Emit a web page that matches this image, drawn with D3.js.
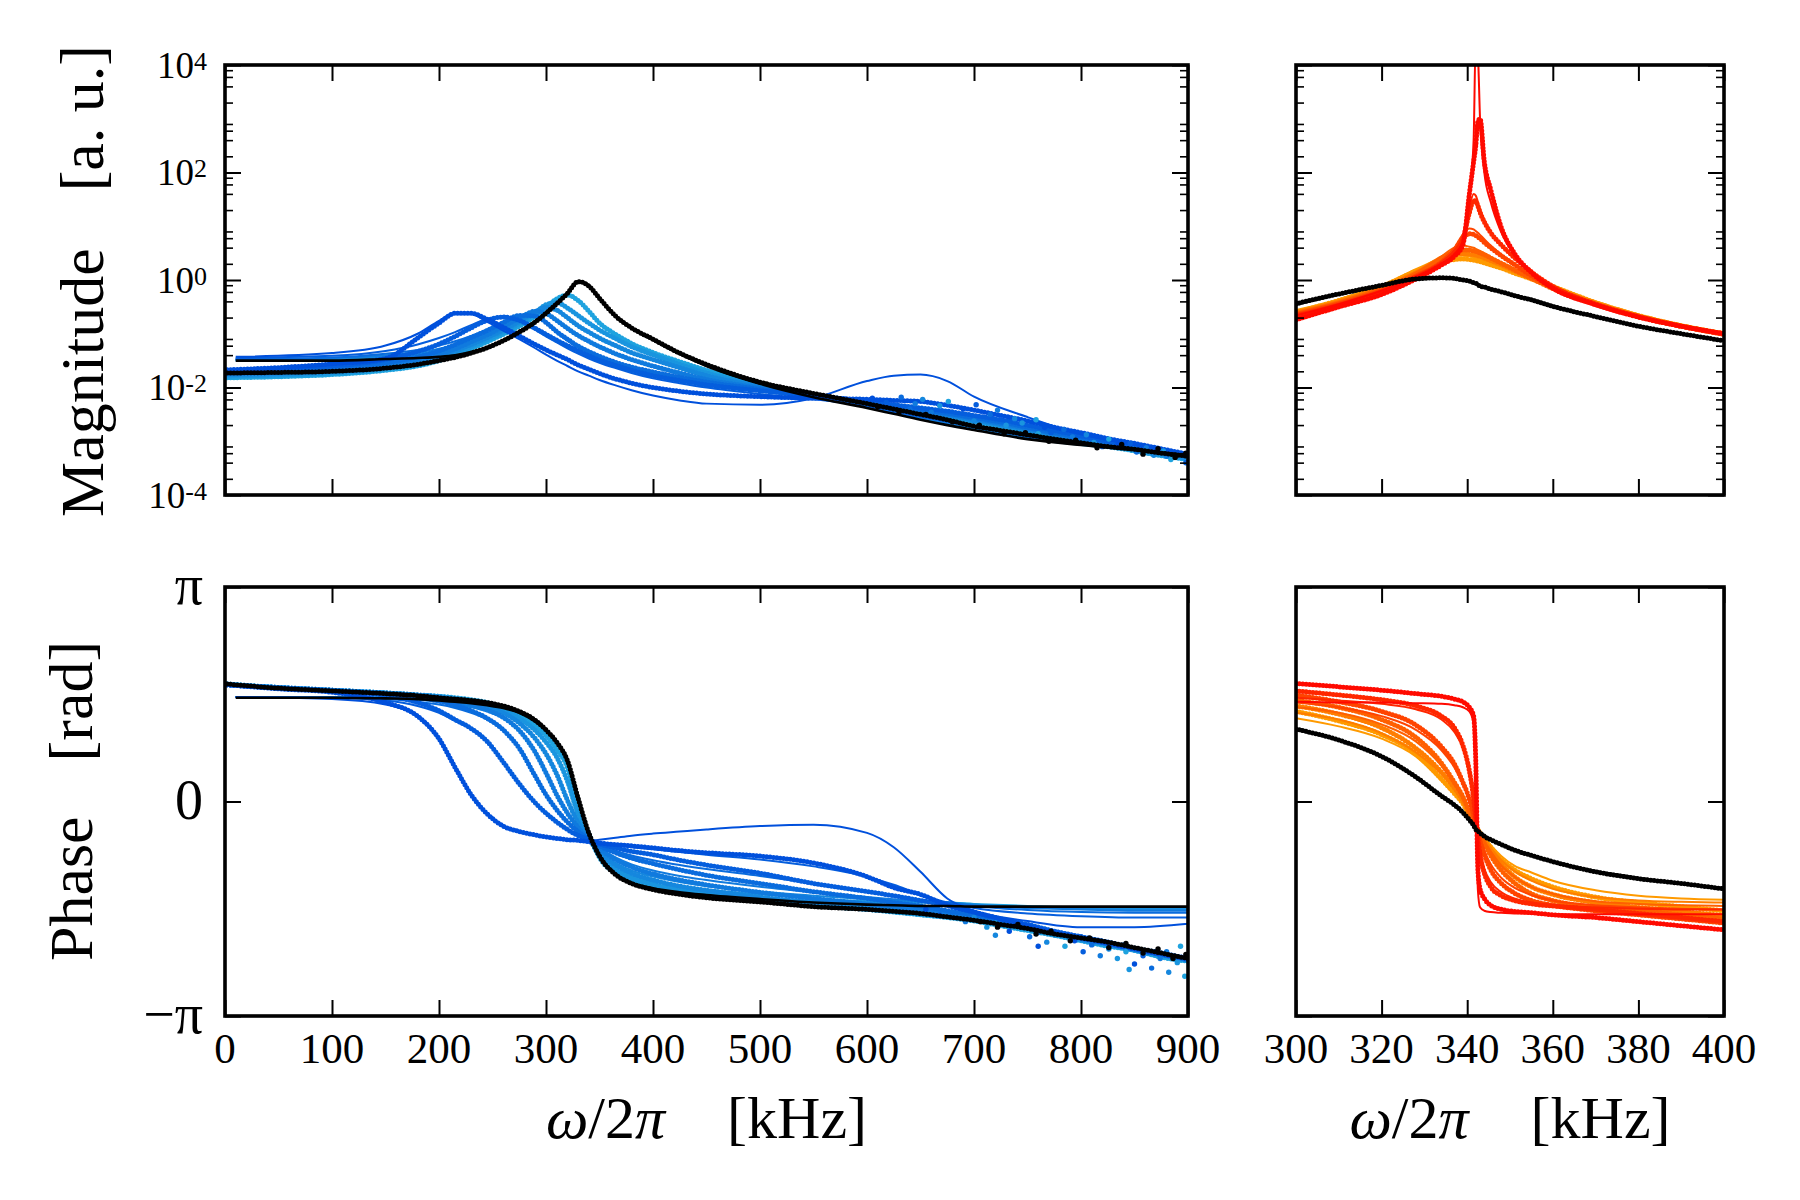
<!DOCTYPE html>
<html>
<head>
<meta charset="utf-8">
<script src="https://cdn.jsdelivr.net/npm/d3@7/dist/d3.min.js"></script>
<style>
body { margin: 0; background: #fff; }
text { font-family: "Liberation Serif", "DejaVu Serif", serif; fill: #000; }
</style>
</head>
<body>
<script>
// ---------- data ----------
// left panels: frequency grids in kHz
var fitGridL = [10, 100, 150, 180, 200, 215, 230, 245, 260, 275, 290, 300, 310, 320, 330, 340, 350, 365, 380, 400, 425, 450, 500, 550, 600, 625, 650, 675, 700, 750, 800, 850, 900];
var datGridL = [2, 50, 100, 150, 180, 200, 215, 230, 245, 260, 275, 290, 300, 310, 320, 330, 340, 350, 365, 380, 400, 425, 450, 500, 550, 600, 625, 650, 675, 700, 725, 750, 775, 800, 825, 850, 875, 900];

// magnitude, log10 values; 7 blue series, dark -> light
var magFitBlue = [
  [-1.43, -1.36, -1.22, -1.0, -0.76, -0.61, -0.63, -0.78, -0.94, -1.1, -1.27, -1.39, -1.5, -1.6, -1.7, -1.78, -1.86, -1.96, -2.05, -2.15, -2.24, -2.3, -2.32, -2.2, -1.88, -1.78, -1.76, -1.88, -2.17, -2.55, -2.87, -3.07, -3.26],
  [-1.45, -1.41, -1.32, -1.2, -1.08, -0.97, -0.84, -0.72, -0.68, -0.76, -0.93, -1.05, -1.16, -1.27, -1.37, -1.46, -1.54, -1.64, -1.73, -1.83, -1.92, -2.0, -2.12, -2.22, -2.34, -2.44, -2.54, -2.63, -2.72, -2.9, -3.03, -3.13, -3.24],
  [-1.47, -1.44, -1.37, -1.3, -1.22, -1.14, -1.04, -0.92, -0.78, -0.65, -0.67, -0.8, -0.98, -1.13, -1.26, -1.36, -1.45, -1.56, -1.65, -1.74, -1.84, -1.93, -2.07, -2.2, -2.35, -2.45, -2.55, -2.64, -2.73, -2.91, -3.04, -3.14, -3.24],
  [-1.48, -1.45, -1.4, -1.34, -1.28, -1.21, -1.12, -1.0, -0.86, -0.7, -0.57, -0.63, -0.77, -0.92, -1.05, -1.16, -1.26, -1.39, -1.5, -1.62, -1.75, -1.87, -2.04, -2.19, -2.35, -2.45, -2.55, -2.65, -2.74, -2.92, -3.05, -3.15, -3.25],
  [-1.48, -1.46, -1.42, -1.37, -1.31, -1.25, -1.16, -1.05, -0.92, -0.76, -0.58, -0.5, -0.57, -0.72, -0.87, -0.99, -1.1, -1.24, -1.37, -1.5, -1.65, -1.8, -2.0, -2.18, -2.35, -2.46, -2.56, -2.66, -2.75, -2.93, -3.05, -3.15, -3.25],
  [-1.49, -1.47, -1.43, -1.39, -1.34, -1.28, -1.2, -1.09, -0.96, -0.8, -0.6, -0.45, -0.42, -0.53, -0.67, -0.81, -0.94, -1.1, -1.25, -1.4, -1.58, -1.74, -1.97, -2.17, -2.35, -2.46, -2.57, -2.67, -2.76, -2.94, -3.06, -3.16, -3.25],
  [-1.5, -1.48, -1.44, -1.41, -1.37, -1.32, -1.24, -1.13, -1.0, -0.85, -0.66, -0.5, -0.34, -0.27, -0.38, -0.58, -0.8, -1.02, -1.19, -1.36, -1.53, -1.69, -1.94, -2.16, -2.35, -2.46, -2.57, -2.67, -2.77, -2.95, -3.07, -3.17, -3.26]
];
var magFitBlackL = [-1.5, -1.5, -1.47, -1.45, -1.43, -1.4, -1.34, -1.25, -1.12, -0.96, -0.77, -0.61, -0.43, -0.24, -0.02, -0.1, -0.35, -0.68, -0.9, -1.12, -1.38, -1.6, -1.93, -2.18, -2.38, -2.49, -2.6, -2.7, -2.79, -2.96, -3.07, -3.16, -3.26];

var magDatBlue = [
  [-1.67, -1.63, -1.56, -1.46, -1.08, -0.8, -0.62, -0.62, -0.73, -0.88, -1.04, -1.2, -1.3, -1.39, -1.48, -1.58, -1.66, -1.74, -1.84, -1.92, -2.0, -2.07, -2.12, -2.17, -2.2, -2.22, -2.24, -2.26, -2.33, -2.42, -2.52, -2.62, -2.74, -2.84, -2.95, -3.04, -3.14, -3.24],
  [-1.69, -1.66, -1.6, -1.48, -1.33, -1.19, -1.05, -0.89, -0.75, -0.69, -0.75, -0.9, -1.01, -1.12, -1.22, -1.32, -1.41, -1.49, -1.59, -1.68, -1.78, -1.87, -1.95, -2.06, -2.15, -2.26, -2.32, -2.38, -2.44, -2.52, -2.6, -2.7, -2.8, -2.9, -3.0, -3.08, -3.17, -3.26],
  [-1.72, -1.69, -1.64, -1.54, -1.43, -1.32, -1.2, -1.07, -0.94, -0.79, -0.66, -0.67, -0.79, -0.96, -1.1, -1.23, -1.33, -1.42, -1.53, -1.62, -1.71, -1.81, -1.9, -2.03, -2.15, -2.27, -2.34, -2.41, -2.48, -2.56, -2.64, -2.74, -2.84, -2.93, -3.02, -3.1, -3.19, -3.28],
  [-1.74, -1.71, -1.67, -1.58, -1.48, -1.38, -1.28, -1.15, -1.02, -0.87, -0.71, -0.58, -0.62, -0.75, -0.9, -1.03, -1.14, -1.24, -1.37, -1.48, -1.6, -1.73, -1.85, -2.01, -2.15, -2.28, -2.35, -2.43, -2.5, -2.58, -2.67, -2.76, -2.86, -2.95, -3.04, -3.12, -3.21, -3.29],
  [-1.76, -1.74, -1.7, -1.62, -1.52, -1.42, -1.32, -1.2, -1.07, -0.93, -0.77, -0.59, -0.51, -0.56, -0.7, -0.85, -0.97, -1.08, -1.22, -1.35, -1.48, -1.63, -1.78, -1.98, -2.14, -2.29, -2.37, -2.44, -2.52, -2.6, -2.69, -2.78, -2.88, -2.97, -3.06, -3.14, -3.23, -3.3],
  [-1.79, -1.77, -1.73, -1.65, -1.56, -1.46, -1.36, -1.24, -1.11, -0.97, -0.81, -0.61, -0.46, -0.42, -0.52, -0.66, -0.8, -0.93, -1.09, -1.24, -1.39, -1.57, -1.73, -1.96, -2.14, -2.3, -2.38, -2.46, -2.54, -2.62, -2.71, -2.8, -2.9, -2.99, -3.08, -3.16, -3.25, -3.32],
  [-1.82, -1.8, -1.76, -1.68, -1.6, -1.5, -1.4, -1.28, -1.15, -1.01, -0.86, -0.67, -0.51, -0.35, -0.28, -0.38, -0.58, -0.8, -1.01, -1.18, -1.35, -1.52, -1.68, -1.93, -2.14, -2.31, -2.39, -2.47, -2.56, -2.64, -2.73, -2.82, -2.92, -3.01, -3.1, -3.18, -3.27, -3.34]
];
var magDatBlackL = [-1.73, -1.72, -1.7, -1.64, -1.57, -1.5, -1.44, -1.36, -1.26, -1.13, -0.97, -0.78, -0.62, -0.44, -0.25, -0.03, -0.11, -0.34, -0.67, -0.89, -1.1, -1.36, -1.57, -1.9, -2.11, -2.3, -2.4, -2.5, -2.6, -2.72, -2.8, -2.88, -2.96, -3.03, -3.1, -3.15, -3.22, -3.28];

// scattered measured points in the noisy tail: [kHz, log10 magnitude]
var magNoiseBlue = [[605, -2.2], [618, -2.28], [632, -2.18], [645, -2.3], [652, -2.22], [668, -2.34], [676, -2.26], [690, -2.4], [702, -2.32], [715, -2.5], [722, -2.42], [738, -2.58], [745, -2.66], [758, -2.6], [766, -2.74], [772, -2.84], [784, -2.78], [792, -2.92], [805, -2.88], [812, -3.02], [826, -2.96], [834, -3.08], [846, -3.04], [852, -3.2], [861, -3.12], [868, -3.26], [877, -3.18], [884, -3.34], [892, -3.24], [898, -3.4], [640, -2.4], [660, -2.46], [700, -2.62], [730, -2.7], [760, -2.86], [790, -3.0], [820, -3.1], [850, -3.14], [880, -3.28], [895, -3.3]];
var magNoiseBlack = [[610, -2.36], [630, -2.46], [655, -2.5], [680, -2.64], [705, -2.7], [728, -2.86], [748, -2.84], [770, -3.0], [795, -2.98], [815, -3.12], [838, -3.06], [858, -3.24], [872, -3.14], [888, -3.3], [898, -3.22]];

// phase, rad
var phFitBlue = [
  [1.53, 1.5, 1.42, 1.24, 0.9, 0.5, 0.1, -0.18, -0.36, -0.44, -0.5, -0.52, -0.54, -0.56, -0.57, -0.58, -0.56, -0.53, -0.5, -0.47, -0.44, -0.41, -0.36, -0.34, -0.46, -0.67, -1.03, -1.42, -1.6, -1.75, -1.84, -1.84, -1.79],
  [1.53, 1.52, 1.48, 1.4, 1.3, 1.18, 1.06, 0.88, 0.58, 0.26, -0.02, -0.16, -0.29, -0.4, -0.48, -0.54, -0.6, -0.64, -0.67, -0.7, -0.74, -0.78, -0.85, -0.95, -1.1, -1.22, -1.36, -1.48, -1.56, -1.64, -1.68, -1.7, -1.7],
  [1.53, 1.52, 1.5, 1.46, 1.42, 1.37, 1.3, 1.2, 1.04, 0.78, 0.37, 0.1, -0.12, -0.3, -0.43, -0.53, -0.63, -0.72, -0.79, -0.86, -0.93, -0.99, -1.09, -1.2, -1.32, -1.38, -1.44, -1.48, -1.53, -1.59, -1.62, -1.63, -1.63],
  [1.53, 1.52, 1.51, 1.49, 1.46, 1.42, 1.38, 1.32, 1.22, 1.04, 0.72, 0.42, 0.1, -0.16, -0.37, -0.53, -0.67, -0.82, -0.92, -1.01, -1.09, -1.15, -1.25, -1.33, -1.4, -1.43, -1.46, -1.48, -1.52, -1.56, -1.58, -1.6, -1.6],
  [1.53, 1.53, 1.52, 1.5, 1.48, 1.45, 1.42, 1.37, 1.3, 1.15, 0.92, 0.7, 0.4, 0.02, -0.3, -0.52, -0.72, -0.9, -1.01, -1.1, -1.18, -1.24, -1.32, -1.38, -1.43, -1.45, -1.47, -1.48, -1.51, -1.55, -1.57, -1.58, -1.58],
  [1.53, 1.53, 1.52, 1.51, 1.49, 1.47, 1.44, 1.4, 1.34, 1.21, 1.04, 0.87, 0.65, 0.3, -0.18, -0.5, -0.77, -0.98, -1.09, -1.17, -1.24, -1.29, -1.36, -1.42, -1.46, -1.47, -1.48, -1.48, -1.51, -1.54, -1.56, -1.57, -1.57],
  [1.53, 1.53, 1.52, 1.51, 1.5, 1.48, 1.45, 1.42, 1.36, 1.26, 1.1, 0.96, 0.76, 0.5, -0.1, -0.46, -0.8, -1.03, -1.15, -1.23, -1.29, -1.34, -1.41, -1.45, -1.47, -1.48, -1.48, -1.48, -1.5, -1.53, -1.55, -1.55, -1.55]
];
var phFitBlackL = [1.52, 1.52, 1.51, 1.5, 1.48, 1.46, 1.44, 1.41, 1.37, 1.3, 1.17, 1.04, 0.86, 0.6, 0.06, -0.45, -0.79, -1.06, -1.19, -1.27, -1.33, -1.37, -1.43, -1.48, -1.51, -1.52, -1.53, -1.53, -1.54, -1.54, -1.54, -1.54, -1.54];

var phDatBlue = [
  [1.71, 1.65, 1.6, 1.45, 1.25, 0.92, 0.5, 0.1, -0.18, -0.36, -0.44, -0.49, -0.52, -0.54, -0.56, -0.57, -0.59, -0.61, -0.63, -0.65, -0.68, -0.72, -0.75, -0.8, -0.9, -1.1, -1.26, -1.36, -1.52, -1.62, -1.72, -1.82, -1.92, -2.0, -2.08, -2.16, -2.24, -2.3],
  [1.71, 1.66, 1.62, 1.55, 1.45, 1.33, 1.2, 1.07, 0.88, 0.58, 0.26, -0.02, -0.17, -0.3, -0.41, -0.5, -0.56, -0.62, -0.68, -0.73, -0.78, -0.86, -0.93, -1.05, -1.2, -1.32, -1.38, -1.45, -1.52, -1.62, -1.72, -1.8, -1.9, -1.98, -2.06, -2.15, -2.22, -2.3],
  [1.71, 1.66, 1.62, 1.57, 1.52, 1.47, 1.41, 1.33, 1.22, 1.05, 0.78, 0.37, 0.1, -0.12, -0.3, -0.44, -0.55, -0.65, -0.75, -0.83, -0.91, -1.0, -1.08, -1.2, -1.32, -1.42, -1.48, -1.53, -1.6, -1.66, -1.74, -1.82, -1.9, -1.99, -2.06, -2.15, -2.22, -2.32],
  [1.71, 1.67, 1.63, 1.58, 1.55, 1.51, 1.46, 1.41, 1.34, 1.23, 1.04, 0.72, 0.42, 0.1, -0.17, -0.38, -0.55, -0.69, -0.85, -0.96, -1.06, -1.15, -1.22, -1.33, -1.42, -1.5, -1.54, -1.58, -1.64, -1.7, -1.77, -1.84, -1.92, -2.0, -2.08, -2.16, -2.24, -2.3],
  [1.71, 1.67, 1.63, 1.59, 1.56, 1.53, 1.49, 1.44, 1.38, 1.3, 1.15, 0.92, 0.7, 0.4, 0.02, -0.31, -0.54, -0.74, -0.93, -1.05, -1.15, -1.24, -1.3, -1.4, -1.48, -1.55, -1.58, -1.62, -1.67, -1.73, -1.79, -1.86, -1.93, -2.02, -2.09, -2.17, -2.24, -2.33],
  [1.72, 1.67, 1.63, 1.59, 1.56, 1.54, 1.51, 1.47, 1.42, 1.35, 1.22, 1.04, 0.87, 0.65, 0.3, -0.19, -0.52, -0.79, -1.0, -1.12, -1.21, -1.29, -1.35, -1.44, -1.52, -1.58, -1.61, -1.65, -1.69, -1.74, -1.8, -1.87, -1.95, -2.03, -2.1, -2.18, -2.26, -2.3],
  [1.72, 1.67, 1.63, 1.59, 1.56, 1.54, 1.52, 1.49, 1.45, 1.38, 1.27, 1.11, 0.97, 0.76, 0.5, -0.11, -0.47, -0.82, -1.05, -1.17, -1.26, -1.33, -1.39, -1.46, -1.53, -1.58, -1.62, -1.66, -1.7, -1.75, -1.82, -1.89, -1.96, -2.04, -2.12, -2.18, -2.28, -2.34]
];
var phDatBlackL = [1.72, 1.66, 1.62, 1.58, 1.55, 1.52, 1.5, 1.48, 1.45, 1.4, 1.32, 1.19, 1.05, 0.87, 0.6, 0.05, -0.46, -0.8, -1.07, -1.2, -1.29, -1.36, -1.41, -1.47, -1.54, -1.58, -1.61, -1.64, -1.69, -1.74, -1.8, -1.86, -1.94, -2.0, -2.06, -2.14, -2.22, -2.3];

// scattered measured points in the noisy tail: [kHz, rad]
var phNoiseBlue = [[655, -1.58], [668, -1.66], [680, -1.62], [692, -1.76], [700, -1.7], [712, -1.84], [720, -1.78], [733, -1.9], [741, -1.82], [752, -1.98], [760, -1.92], [768, -2.06], [776, -1.96], [785, -2.12], [794, -2.04], [802, -2.2], [810, -2.1], [818, -2.26], [826, -2.16], [834, -2.3], [842, -2.2], [850, -2.38], [858, -2.26], [866, -2.44], [874, -2.3], [882, -2.5], [890, -2.36], [897, -2.56], [760, -2.12], [800, -1.98], [840, -2.1], [880, -2.2], [720, -1.96], [845, -2.46], [893, -2.12]];
var phNoiseBlack = [[706, -1.76], [722, -1.84], [741, -1.8], [758, -1.94], [772, -1.9], [790, -2.04], [808, -2.0], [826, -2.14], [842, -2.08], [858, -2.22], [872, -2.16], [886, -2.3], [898, -2.24]];

// right panels (zoom 300-400 kHz): one grid for all series; 6 red series, red -> orange
var gridR = [300, 310, 320, 328, 334, 337, 339, 340.5, 341.5, 342, 342.5, 343, 344, 345.5, 348, 351, 355, 360, 370, 380, 390, 400];

var magFitRed = [
  [-0.66, -0.45, -0.2, 0.06, 0.3, 0.48, 0.72, 1.6, 2.6, 4.5, 4.2, 3.0, 2.0, 1.45, 0.88, 0.46, 0.12, -0.18, -0.48, -0.7, -0.87, -1.01],
  [-0.64, -0.44, -0.19, 0.08, 0.34, 0.55, 0.82, 1.35, 1.6, 1.57, 1.45, 1.32, 1.12, 0.9, 0.66, 0.43, 0.16, -0.1, -0.44, -0.67, -0.85, -1.0],
  [-0.62, -0.42, -0.17, 0.1, 0.36, 0.6, 0.85, 0.96, 0.94, 0.91, 0.88, 0.84, 0.76, 0.64, 0.47, 0.3, 0.09, -0.13, -0.44, -0.67, -0.85, -1.0],
  [-0.6, -0.4, -0.14, 0.14, 0.44, 0.6, 0.64, 0.62, 0.6, 0.58, 0.56, 0.54, 0.5, 0.43, 0.32, 0.2, 0.04, -0.15, -0.44, -0.67, -0.85, -1.0],
  [-0.58, -0.38, -0.12, 0.16, 0.44, 0.54, 0.55, 0.54, 0.52, 0.51, 0.5, 0.48, 0.45, 0.39, 0.3, 0.19, 0.05, -0.13, -0.42, -0.66, -0.84, -0.99],
  [-0.56, -0.36, -0.1, 0.2, 0.4, 0.45, 0.45, 0.44, 0.42, 0.41, 0.4, 0.39, 0.36, 0.32, 0.25, 0.16, 0.05, -0.1, -0.4, -0.64, -0.83, -0.98]
];
var magFitBlackR = [-0.46, -0.27, -0.1, 0.03, 0.05, 0.02, 0.0, -0.03, -0.05, -0.07, -0.09, -0.12, -0.14, -0.17, -0.22, -0.28, -0.36, -0.48, -0.68, -0.86, -1.0, -1.12];

var magDatRed = [
  [-0.74, -0.5, -0.27, 0.02, 0.28, 0.44, 0.66, 1.6, 2.2, 2.5, 2.95, 3.0, 2.2, 1.68, 0.97, 0.5, 0.14, -0.15, -0.46, -0.69, -0.86, -1.0],
  [-0.72, -0.49, -0.24, 0.04, 0.3, 0.5, 0.76, 1.25, 1.48, 1.46, 1.38, 1.26, 1.08, 0.88, 0.65, 0.42, 0.15, -0.12, -0.45, -0.68, -0.86, -1.0],
  [-0.7, -0.47, -0.22, 0.06, 0.33, 0.55, 0.78, 0.86, 0.85, 0.83, 0.8, 0.77, 0.7, 0.6, 0.45, 0.29, 0.08, -0.14, -0.45, -0.68, -0.86, -1.01],
  [-0.66, -0.44, -0.18, 0.1, 0.38, 0.52, 0.56, 0.56, 0.54, 0.53, 0.52, 0.5, 0.47, 0.41, 0.31, 0.19, 0.03, -0.16, -0.45, -0.68, -0.86, -1.01],
  [-0.63, -0.41, -0.15, 0.13, 0.38, 0.47, 0.49, 0.48, 0.47, 0.46, 0.45, 0.44, 0.41, 0.36, 0.28, 0.17, 0.03, -0.14, -0.43, -0.67, -0.85, -1.0],
  [-0.6, -0.38, -0.12, 0.16, 0.34, 0.38, 0.39, 0.38, 0.37, 0.36, 0.35, 0.34, 0.32, 0.28, 0.22, 0.13, 0.02, -0.12, -0.42, -0.66, -0.85, -1.0]
];
var magDatBlackR = [-0.44, -0.26, -0.1, 0.02, 0.04, 0.03, 0.0, -0.02, -0.05, -0.06, -0.08, -0.12, -0.13, -0.17, -0.22, -0.29, -0.37, -0.49, -0.68, -0.86, -1.0, -1.13];

var phFitRed = [
  [1.46, 1.45, 1.45, 1.44, 1.43, 1.41, 1.38, 1.32, 1.15, 0.3, -1.3, -1.55, -1.6, -1.62, -1.63, -1.64, -1.64, -1.65, -1.65, -1.65, -1.65, -1.65],
  [1.52, 1.48, 1.43, 1.35, 1.2, 1.02, 0.78, 0.42, 0.02, -0.28, -0.5, -0.72, -0.98, -1.18, -1.33, -1.42, -1.48, -1.52, -1.55, -1.57, -1.58, -1.58],
  [1.45, 1.38, 1.25, 1.05, 0.75, 0.5, 0.25, 0.02, -0.22, -0.33, -0.43, -0.54, -0.72, -0.92, -1.12, -1.26, -1.37, -1.45, -1.52, -1.55, -1.57, -1.58],
  [1.38, 1.3, 1.13, 0.88, 0.52, 0.25, 0.05, -0.16, -0.29, -0.35, -0.41, -0.47, -0.58, -0.73, -0.94, -1.1, -1.25, -1.35, -1.46, -1.5, -1.52, -1.53],
  [1.3, 1.2, 1.0, 0.72, 0.4, 0.18, 0.0, -0.17, -0.29, -0.35, -0.4, -0.45, -0.55, -0.68, -0.86, -1.02, -1.16, -1.28, -1.4, -1.45, -1.47, -1.48],
  [1.22, 1.1, 0.92, 0.66, 0.3, 0.1, -0.04, -0.2, -0.3, -0.35, -0.4, -0.45, -0.53, -0.64, -0.8, -0.94, -1.04, -1.16, -1.3, -1.38, -1.42, -1.44]
];
var phFitBlackR = [1.05, 0.9, 0.66, 0.35, 0.08, -0.05, -0.16, -0.27, -0.35, -0.4, -0.43, -0.46, -0.5, -0.56, -0.63, -0.7, -0.79, -0.88, -1.02, -1.12, -1.2, -1.27];

var phDatRed = [
  [1.73, 1.68, 1.63, 1.58, 1.54, 1.5, 1.46, 1.38, 1.25, 0.6, -1.0, -1.28, -1.42, -1.52, -1.58, -1.61, -1.63, -1.66, -1.7, -1.76, -1.82, -1.88],
  [1.62, 1.56, 1.49, 1.4, 1.25, 1.08, 0.82, 0.45, 0.04, -0.27, -0.52, -0.78, -1.05, -1.25, -1.38, -1.45, -1.5, -1.53, -1.58, -1.64, -1.7, -1.76],
  [1.56, 1.46, 1.32, 1.12, 0.8, 0.55, 0.28, 0.04, -0.2, -0.33, -0.45, -0.58, -0.78, -1.0, -1.2, -1.34, -1.45, -1.52, -1.6, -1.66, -1.72, -1.78],
  [1.48, 1.38, 1.2, 0.94, 0.56, 0.28, 0.07, -0.15, -0.29, -0.35, -0.42, -0.49, -0.62, -0.79, -1.01, -1.19, -1.35, -1.45, -1.55, -1.6, -1.66, -1.72],
  [1.4, 1.28, 1.08, 0.78, 0.43, 0.2, 0.01, -0.17, -0.29, -0.35, -0.41, -0.47, -0.58, -0.72, -0.92, -1.1, -1.25, -1.36, -1.48, -1.55, -1.61, -1.67],
  [1.32, 1.18, 0.98, 0.7, 0.33, 0.12, -0.03, -0.2, -0.3, -0.35, -0.41, -0.46, -0.55, -0.67, -0.85, -1.0, -1.13, -1.25, -1.4, -1.48, -1.54, -1.6]
];
var phDatBlackR = [1.06, 0.9, 0.66, 0.36, 0.08, -0.05, -0.16, -0.27, -0.35, -0.41, -0.43, -0.46, -0.51, -0.56, -0.63, -0.71, -0.79, -0.88, -1.03, -1.13, -1.2, -1.28];

// ticks and labels
var xTicksL = [0, 100, 200, 300, 400, 500, 600, 700, 800, 900];
var xTicksR = [300, 320, 340, 360, 380, 400];
var magExp = [-4, -2, 0, 2, 4];
var magExpLabels = ["-4", "-2", "0", "2", "4"];
var phTicks = [-Math.PI, 0, Math.PI];
var phTickLabels = ["\u2212\u03c0", "0", "\u03c0"];

// ---------- layout ----------
var W = 1800, H = 1200;
var colL = [225, 1188], colR = [1296, 1724];
var rowTop = [65, 495], rowBot = [587, 1016];

var blueColors = d3.quantize(d3.interpolateRgb("#0050dc", "#1fa3df"), 7);
var redColors = d3.quantize(d3.interpolateRgb("#ff0a00", "#ff9a00"), 6);

var svg = d3.select("body").append("svg")
    .attr("width", W).attr("height", H);
var defs = svg.append("defs");

var xL = d3.scaleLinear().domain([0, 900]).range(colL);
var xR = d3.scaleLinear().domain([300, 400]).range(colR);
var yMag = d3.scaleLog().domain([1e-4, 1e4]).range([rowTop[1], rowTop[0]]);
var yPh = d3.scaleLinear().domain([-Math.PI, Math.PI]).range([rowBot[1], rowBot[0]]);

function toMag(v) { return Math.pow(10, v); }
function ident(v) { return v; }

var clipId = 0;
function panel(x, y) {
  var id = "clip" + (clipId++);
  var r = [x.range()[0], y.range()[1], x.range()[1] - x.range()[0], y.range()[0] - y.range()[1]];
  defs.append("clipPath").attr("id", id).append("rect")
      .attr("x", r[0]).attr("y", r[1]).attr("width", r[2]).attr("height", r[3]);
  return svg.append("g").attr("clip-path", "url(#" + id + ")");
}

function series(g, x, y, grid, vals, tf, color, isData, w) {
  var pts = grid.map(function(f, i) { return [f, vals[i]]; })
      .filter(function(d) { return d[1] != null; });
  var line = d3.line()
      .x(function(d) { return x(d[0]); })
      .y(function(d) { return y(tf(d[1])); })
      .curve(d3.curveMonotoneX);
  var p = g.append("path").datum(pts)
      .attr("d", line)
      .attr("fill", "none")
      .attr("stroke", color);
  if (isData) {
    p.attr("stroke-width", 5).attr("stroke-linecap", "round")
     .attr("stroke-dasharray", "0 3.4");
  } else {
    p.attr("stroke-width", w || 2);
  }
}

function scatter(g, x, y, pts, tf, colorFn) {
  g.append("g").selectAll("circle").data(pts).enter().append("circle")
      .attr("cx", function(d) { return x(d[0]); })
      .attr("cy", function(d) { return y(tf(d[1])); })
      .attr("r", 2.7)
      .attr("fill", colorFn);
}

function drawSet(x, y, gridFit, gridDat, fits, dats, fitK, datK, colors, tf, order, noiseC, noiseK) {
  var g = panel(x, y);
  order.forEach(function(i) {
    series(g, x, y, gridDat, dats[i], tf, colors[i], true);
    series(g, x, y, gridFit, fits[i], tf, colors[i], false, 2);
  });
  if (noiseC) scatter(g, x, y, noiseC, tf, function(d, i) { return colors[i % colors.length]; });
  series(g, x, y, gridDat, datK, tf, "#000", true);
  if (noiseK) scatter(g, x, y, noiseK, tf, function() { return "#000"; });
  series(g, x, y, gridFit, fitK, tf, "#000", false, 2.6);
}

var blueOrder = [6, 5, 4, 3, 2, 1, 0];
var redOrder = [5, 4, 3, 2, 1, 0];
drawSet(xL, yMag, fitGridL, datGridL, magFitBlue, magDatBlue, magFitBlackL, magDatBlackL, blueColors, toMag, blueOrder, magNoiseBlue, magNoiseBlack);
drawSet(xL, yPh, fitGridL, datGridL, phFitBlue, phDatBlue, phFitBlackL, phDatBlackL, blueColors, ident, blueOrder, phNoiseBlue, phNoiseBlack);
drawSet(xR, yMag, gridR, gridR, magFitRed, magDatRed, magFitBlackR, magDatBlackR, redColors, toMag, redOrder);
drawSet(xR, yPh, gridR, gridR, phFitRed, phDatRed, phFitBlackR, phDatBlackR, redColors, ident, redOrder);

// ---------- frames and inward ticks ----------
var minorMag = [];
for (var k = -4; k < 4; k++) {
  [2, 4, 6, 8].forEach(function(s) { minorMag.push(s * Math.pow(10, k)); });
}
var majorMag = magExp.map(toMag);

function ticks(axisFn, scale, vals, size, pos, width) {
  var g = svg.append("g").attr("transform", pos)
      .call(axisFn(scale).tickValues(vals).tickSize(-size).tickSizeOuter(0).tickFormat(""));
  g.select(".domain").remove();
  g.selectAll("line").attr("stroke", "#000").attr("stroke-width", width);
}

function frame(x, y, xt, isLog, yt) {
  var x0 = x.range()[0], x1 = x.range()[1], y0 = y.range()[1], y1 = y.range()[0];
  ticks(d3.axisBottom, x, xt, 16, "translate(0," + y1 + ")", 2);
  ticks(d3.axisTop, x, xt, 16, "translate(0," + y0 + ")", 2);
  ticks(d3.axisLeft, y, yt, 16, "translate(" + x0 + ",0)", 2);
  ticks(d3.axisRight, y, yt, 16, "translate(" + x1 + ",0)", 2);
  if (isLog) {
    ticks(d3.axisLeft, y, minorMag, 8, "translate(" + x0 + ",0)", 1.6);
    ticks(d3.axisRight, y, minorMag, 8, "translate(" + x1 + ",0)", 1.6);
  }
  svg.append("rect").attr("x", x0).attr("y", y0)
      .attr("width", x1 - x0).attr("height", y1 - y0)
      .attr("fill", "none").attr("stroke", "#000").attr("stroke-width", 3.6);
}

frame(xL, yMag, xTicksL, true, majorMag);
frame(xR, yMag, xTicksR, true, majorMag);
frame(xL, yPh, xTicksL, false, phTicks);
frame(xR, yPh, xTicksR, false, phTicks);

// ---------- tick labels ----------
function xLabels(x, vals) {
  svg.append("g").selectAll("text").data(vals).enter().append("text")
      .attr("x", function(d) { return x(d); })
      .attr("y", 1063)
      .attr("text-anchor", "middle")
      .style("font-size", "43px")
      .text(function(d) { return d; });
}
xLabels(xL, xTicksL);
xLabels(xR, xTicksR);

var magLab = svg.append("g").selectAll("text").data(magExp).enter().append("text")
    .attr("x", 207)
    .attr("y", function(d) { return yMag(toMag(d)) + 12.5; })
    .attr("text-anchor", "end")
    .style("font-size", "37px");
magLab.append("tspan").text("10");
magLab.append("tspan").attr("dy", -8).style("font-size", "26px")
    .text(function(d, i) { return magExpLabels[i]; });

svg.append("g").selectAll("text").data(phTicks).enter().append("text")
    .attr("x", 203)
    .attr("y", function(d) { return yPh(d) + 17; })
    .attr("text-anchor", "end")
    .style("font-size", "56px")
    .text(function(d, i) { return phTickLabels[i]; });

// ---------- axis titles ----------
function yTitle(x, yc, a, b, gap) {
  var t = svg.append("text")
      .attr("transform", "translate(" + x + "," + yc + ") rotate(-90)")
      .attr("text-anchor", "middle")
      .style("font-size", "62px");
  t.append("tspan").text(a);
  t.append("tspan").attr("dx", gap).text(b);
}
yTitle(103, 281, "Magnitude", "[a. u.]", 57);
yTitle(92, 801, "Phase", "[rad]", 55);

function xTitle(xc) {
  var t = svg.append("text")
      .attr("x", xc).attr("y", 1138)
      .attr("text-anchor", "middle")
      .style("font-size", "60px");
  t.append("tspan").style("font-style", "italic").text("\u03c9");
  t.append("tspan").text("/2");
  t.append("tspan").style("font-style", "italic").text("\u03c0");
  t.append("tspan").attr("dx", 62).text("[kHz]");
}
xTitle((colL[0] + colL[1]) / 2);
xTitle((colR[0] + colR[1]) / 2);
</script>
</body>
</html>
